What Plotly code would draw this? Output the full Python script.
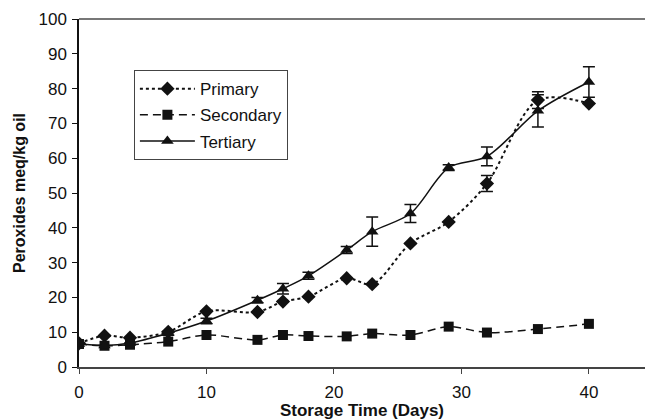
import plotly.graph_objects as go

# Storage days and peroxide values (meq/kg oil)
days = [0, 2, 4, 7, 10, 14, 16, 18, 21, 23, 26, 29, 32, 36, 40]
primary = [6.8, 9.0, 8.4, 10.1, 16.0, 15.8, 18.8, 20.2, 25.5, 23.8, 35.5, 41.7, 52.7, 76.7, 75.7]
primary_err = [0, 0, 0, 0, 0, 0, 0, 0, 0, 0, 0, 0, 2.3, 2.4, 0]
secondary = [6.6, 6.1, 6.4, 7.3, 9.2, 7.8, 9.2, 8.9, 8.8, 9.6, 9.2, 11.6, 9.9, 10.9, 12.4]
tertiary = [6.6, 6.2, 6.9, 9.7, 13.2, 19.2, 22.5, 26.2, 33.6, 38.9, 44.1, 57.3, 60.5, 73.6, 81.9]
tertiary_err = [0, 0, 0, 0.5, 0.8, 0.8, 1.5, 1.0, 1.0, 4.2, 2.6, 0.8, 2.7, 4.6, 4.4]

series_names = ["Primary", "Secondary", "Tertiary"]
ink = "#111111"

fig = go.Figure()
fig.add_trace(go.Scatter(
    x=days, y=primary, name=series_names[0], mode="lines+markers", legendgroup="p",
    line=dict(color=ink, width=2, dash="dot", shape="spline", smoothing=0.9),
    marker=dict(symbol="diamond", size=11, color=ink),
    error_y=dict(type="data", array=primary_err, color=ink, thickness=1.5, width=6),
))
fig.add_trace(go.Scatter(
    x=days, y=secondary, name=series_names[1], mode="lines+markers", legendgroup="s",
    line=dict(color=ink, width=1.5, dash="8px,5px", shape="spline", smoothing=0.9),
    marker=dict(symbol="square", size=10, color=ink),
))
fig.add_trace(go.Scatter(
    x=days, y=tertiary, name=series_names[2], mode="lines+markers", legendgroup="t",
    line=dict(color=ink, width=1.5, shape="spline", smoothing=0.9),
    marker=dict(symbol="triangle-up", size=11, color=ink),
    error_y=dict(type="data", array=tertiary_err, color=ink, thickness=1.5, width=6),
))

fig.update_layout(
    width=645, height=420,
    margin=dict(l=79, r=0, t=19, b=53),
    plot_bgcolor="white", paper_bgcolor="white",
    font=dict(family="Liberation Sans, Arial, sans-serif", size=17, color="#111"),
    showlegend=True,
    legend=dict(
        x=0.097, y=0.853, xanchor="left", yanchor="top",
        bgcolor="white", bordercolor="#444", borderwidth=1,
        font=dict(size=17), itemwidth=55, traceorder="grouped", tracegroupgap=1,
    ),
    xaxis=dict(
        range=[0, 44.4], tickvals=[0, 10, 20, 30, 40],
        showgrid=False, zeroline=False,
        showline=True, linecolor="#444", linewidth=1.5,
        ticks="outside", ticklen=5, tickcolor="#444", ticklabelstandoff=4,
        title=dict(text="<b>Storage Time (Days)</b>", font=dict(size=17), standoff=0),
    ),
    yaxis=dict(
        range=[0, 100], dtick=10,
        showgrid=False, zeroline=False,
        showline=True, linecolor="#111", linewidth=1.5,
        ticks="outside", ticklen=5, tickcolor="#111", ticklabelstandoff=2,
        title=dict(text="<b>Peroxides meq/kg oil</b>", font=dict(size=16), standoff=9),
    ),
    shapes=[dict(type="line", xref="paper", yref="paper", x0=0, x1=1, y0=1, y1=1,
                 line=dict(color="#777", width=2))],
)

fig.write_html("out.html")
